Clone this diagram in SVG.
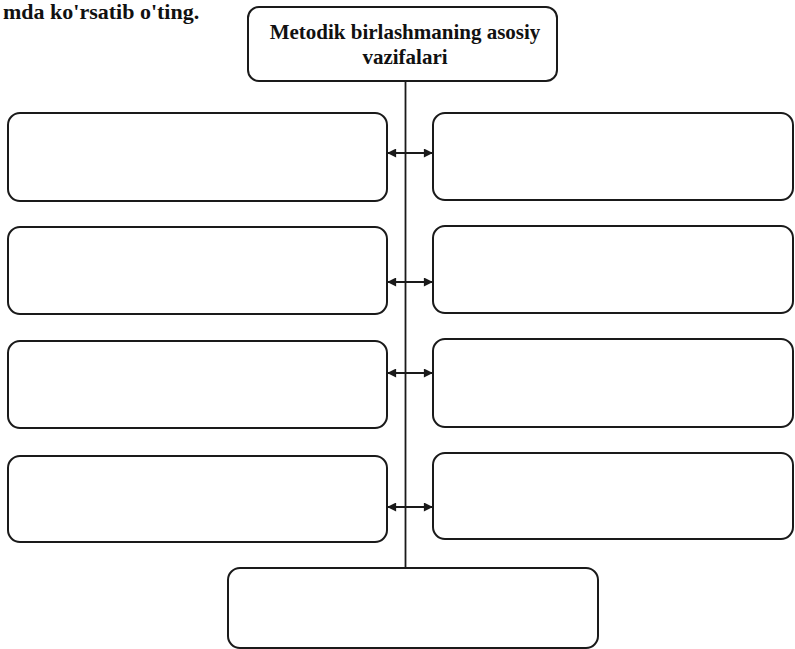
<svg xmlns="http://www.w3.org/2000/svg" width="795" height="649" viewBox="0 0 795 649">
<defs>
<style>
.box{fill:#fff;stroke:#1a1a1a;stroke-width:2}
.ln{stroke:#1a1a1a;stroke-width:1.8;fill:none}
.t{font-family:"Liberation Serif","Times New Roman",serif;font-weight:bold;fill:#111}
</style>
<marker id="ah" viewBox="0 0 10 10" refX="9" refY="5" markerWidth="11" markerHeight="9" markerUnits="userSpaceOnUse" orient="auto-start-reverse">
<path d="M0,0 L10,5 L0,10 z" fill="#1a1a1a"/>
</marker>
</defs>
<rect width="795" height="649" fill="#fff"/>
<text class="t" x="3" y="19" font-size="22">mda ko'rsatib o'ting.</text>
<g id="connectors">
<line class="ln" x1="405.5" y1="81" x2="405.5" y2="569"/>
<line class="ln" x1="388" y1="153" x2="432" y2="153" marker-start="url(#ah)" marker-end="url(#ah)"/>
<line class="ln" x1="388" y1="282" x2="432" y2="282" marker-start="url(#ah)" marker-end="url(#ah)"/>
<line class="ln" x1="388" y1="373" x2="432" y2="373" marker-start="url(#ah)" marker-end="url(#ah)"/>
<line class="ln" x1="388" y1="507" x2="432" y2="507" marker-start="url(#ah)" marker-end="url(#ah)"/>
</g>
<g id="top">
<rect class="box" x="248" y="7" width="309" height="74" rx="11"/>
<text class="t" x="405" y="39" font-size="21" text-anchor="middle">Metodik birlashmaning asosiy</text>
<text class="t" x="405" y="64" font-size="21" text-anchor="middle">vazifalari</text>
</g>
<g id="left1"><rect class="box" x="8" y="113" width="379" height="88" rx="12"/></g>
<g id="left2"><rect class="box" x="8" y="227" width="379" height="87" rx="12"/></g>
<g id="left3"><rect class="box" x="8" y="341" width="379" height="87" rx="12"/></g>
<g id="left4"><rect class="box" x="8" y="456" width="379" height="86" rx="12"/></g>
<g id="right1"><rect class="box" x="433" y="113" width="360" height="87" rx="12"/></g>
<g id="right2"><rect class="box" x="433" y="226" width="360" height="87" rx="12"/></g>
<g id="right3"><rect class="box" x="433" y="339" width="360" height="88" rx="12"/></g>
<g id="right4"><rect class="box" x="433" y="453" width="360" height="86" rx="12"/></g>
<g id="bottom"><rect class="box" x="228" y="568" width="370" height="80" rx="12"/></g>
</svg>
